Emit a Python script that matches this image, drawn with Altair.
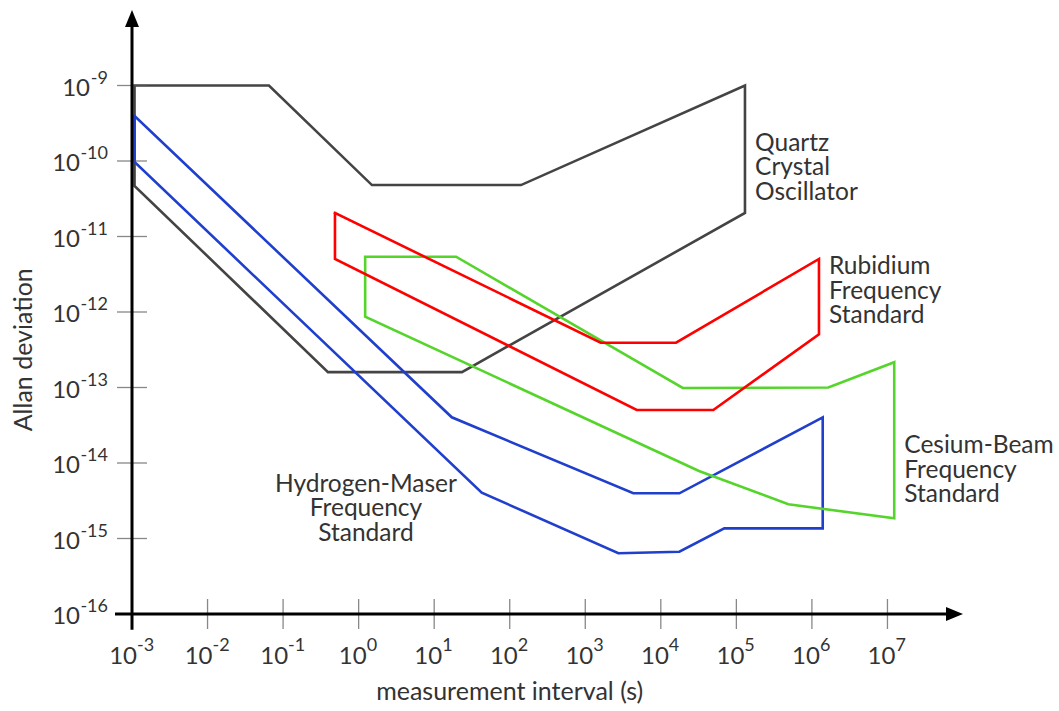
import altair as alt
import pandas as pd

# Stability envelopes: averaging time tau (s) and Allan deviation sigma_y(tau)
quartz_tau = [1.08e-3, 0.065, 1.50, 141, 1.30e5, 1.30e5, 23.3, 0.393, 1.08e-3, 1.08e-3]
quartz_sigma = [1.0e-9, 1.0e-9, 4.8e-11, 4.8e-11, 1.0e-9, 2.05e-11, 1.6e-13, 1.6e-13, 4.67e-11, 1.0e-9]

rubidium_tau = [0.486, 1600, 1.59e4, 1.24e6, 1.24e6, 4.95e4, 4800, 0.486, 0.486]
rubidium_sigma = [2.05e-11, 3.92e-13, 3.92e-13, 5.04e-12, 5.07e-13, 5.04e-14, 5.04e-14, 5.04e-12, 2.05e-11]

cesium_tau = [1.22, 19.5, 1.95e4, 1.65e6, 1.23e7, 1.23e7, 4.88e5, 3.2e4, 1.22, 1.22]
cesium_sigma = [5.4e-12, 5.4e-12, 9.85e-14, 1.0e-13, 2.16e-13, 1.85e-15, 2.84e-15, 7.83e-15, 8.67e-13, 5.4e-12]

hydrogen_tau = [1.08e-3, 17.1, 4320, 1.76e4, 1.39e6, 1.39e6, 6.92e4, 1.76e4, 2740, 42.6, 1.08e-3, 1.08e-3]
hydrogen_sigma = [3.94e-10, 4.03e-14, 3.97e-15, 3.97e-15, 4.03e-14, 1.36e-15, 1.36e-15, 6.68e-16, 6.37e-16, 4.05e-15, 9.7e-11, 3.94e-10]

# Axis decades and label text
x_decades = list(range(-3, 8))
y_decades = list(range(-16, -8))

label_names = ["Quartz\nCrystal\nOscillator", "Rubidium\nFrequency\nStandard",
               "Cesium-Beam\nFrequency\nStandard", "Hydrogen-Maser\nFrequency\nStandard"]
label_tau = [1.77e5, 1.68e6, 1.67e7, 1.25]
label_sigma = [1.37e-10, 3.18e-12, 1.34e-14, 4.13e-15]
label_align = ["left", "left", "left", "center"]

FONT = "Lato"
TEXT = "#333333"

XS = alt.Scale(type="log", domain=[1e-3, 1e8], nice=False)
YS = alt.Scale(type="log", domain=[1e-16, 1e-8], nice=False)


def xy(xf, yf):
    return dict(x=alt.X(xf, scale=XS, axis=None), y=alt.Y(yf, scale=YS, axis=None))


def outline(tau, sigma, color):
    df = pd.DataFrame({"tau": tau, "sigma": sigma, "i": range(len(tau))})
    return alt.Chart(df).mark_line(
        color=color, strokeWidth=2.6, strokeJoin="miter", strokeCap="square"
    ).encode(order="i:Q", **xy("tau:Q", "sigma:Q"))


layers = []

# envelopes
layers.append(outline(quartz_tau, quartz_sigma, "#444444"))
layers.append(outline(hydrogen_tau, hydrogen_sigma, "#1f3fcc"))
layers.append(outline(cesium_tau, cesium_sigma, "#55d52c"))
layers.append(outline(rubidium_tau, rubidium_sigma, "#ff0000"))

# tick marks crossing the axes
xt = pd.DataFrame({"v": [10.0 ** k for k in x_decades], "y": 1e-16})
yt = pd.DataFrame({"v": [10.0 ** k for k in y_decades], "x": 1e-3})
layers.append(alt.Chart(xt).mark_tick(orient="vertical", size=30, thickness=1.3, color="#555555")
              .encode(**xy("v:Q", "y:Q")))
layers.append(alt.Chart(yt).mark_tick(orient="horizontal", size=30, thickness=1.3, color="#555555")
              .encode(**xy("x:Q", "v:Q")))

# axis lines
ax = pd.DataFrame({"x": [10 ** -3.225], "x2": [10 ** 7.9], "y": [1e-16]})
ay = pd.DataFrame({"x": [1e-3], "y": [10 ** -16.21], "y2": [10 ** -8.1]})
layers.append(alt.Chart(ax).mark_rule(color="black", strokeWidth=3)
              .encode(x2="x2:Q", **xy("x:Q", "y:Q")))
layers.append(alt.Chart(ay).mark_rule(color="black", strokeWidth=3)
              .encode(y2="y2:Q", **xy("x:Q", "y:Q")))

# arrowheads
arr_r = pd.DataFrame({"x": [1e8], "y": [1e-16]})
arr_u = pd.DataFrame({"x": [1e-3], "y": [1e-8]})
layers.append(alt.Chart(arr_r).mark_point(shape="M0,0L-2,-0.82L-2,0.82Z", size=289, filled=True,
                                          color="black", opacity=1, strokeWidth=0)
              .encode(**xy("x:Q", "y:Q")))
layers.append(alt.Chart(arr_u).mark_point(shape="M0,0L-0.82,2L0.82,2Z", size=289, filled=True,
                                          color="black", opacity=1, strokeWidth=0)
              .encode(**xy("x:Q", "y:Q")))

# x tick labels: "10" with raised exponent
xl = pd.DataFrame({"v": [10.0 ** k for k in x_decades], "e": [str(k) for k in x_decades],
                   "neg": [k < 0 for k in x_decades], "y": 1e-16})
for neg, junction in [(True, 5), (False, 8)]:
    sub = xl[xl["neg"] == neg]
    layers.append(alt.Chart(sub).mark_text(text="10", align="right", dx=junction, dy=43,
                                           font=FONT, fontSize=24, color=TEXT)
                  .encode(**xy("v:Q", "y:Q")))
    layers.append(alt.Chart(sub).mark_text(align="left", dx=junction, dy=32,
                                           font=FONT, fontSize=18, color=TEXT)
                  .encode(text="e:N", **xy("v:Q", "y:Q")))

# y tick labels
yl = pd.DataFrame({"v": [10.0 ** k for k in y_decades], "e": [str(k) for k in y_decades],
                   "w": [len(str(k)) for k in y_decades], "x": 1e-3})
layers.append(alt.Chart(yl).mark_text(align="right", dx=-24, dy=-7, font=FONT, fontSize=18, color=TEXT)
              .encode(text="e:N", **xy("x:Q", "v:Q")))
for w, off in [(2, -42), (3, -52)]:
    sub = yl[yl["w"] == w]
    layers.append(alt.Chart(sub).mark_text(text="10", align="right", dx=off, dy=3,
                                           font=FONT, fontSize=24, color=TEXT)
                  .encode(**xy("x:Q", "v:Q")))

# axis titles
tx = pd.DataFrame({"x": [1e2], "y": [1e-16]})
ty = pd.DataFrame({"x": [1e-3], "y": [10 ** -12.5]})
layers.append(alt.Chart(tx).mark_text(text="measurement interval (s)", align="center", dy=78,
                                      font=FONT, fontSize=25, color=TEXT)
              .encode(**xy("x:Q", "y:Q")))
layers.append(alt.Chart(ty).mark_text(text="Allan deviation", align="center", angle=270, dy=-108,
                                      font=FONT, fontSize=25, color=TEXT)
              .encode(**xy("x:Q", "y:Q")))

# envelope names
for name, t, s, a in zip(label_names, label_tau, label_sigma, label_align):
    df = pd.DataFrame({"t": [t], "s": [s]})
    layers.append(alt.Chart(df).mark_text(text=name.split("\n"), align=a, lineHeight=24.5, dy=-7,
                                          font=FONT, fontSize=24.5, color=TEXT)
                  .encode(**xy("t:Q", "s:Q")))

chart = alt.layer(*layers).properties(
    width=831, height=604,
    autosize=alt.AutoSizeParams(type="none"),
    padding={"left": 132, "top": 10, "right": 96, "bottom": 97},
    background="white",
).configure_view(stroke=None)

chart.save("out.html", embed_options={"renderer": "svg", "actions": False})
